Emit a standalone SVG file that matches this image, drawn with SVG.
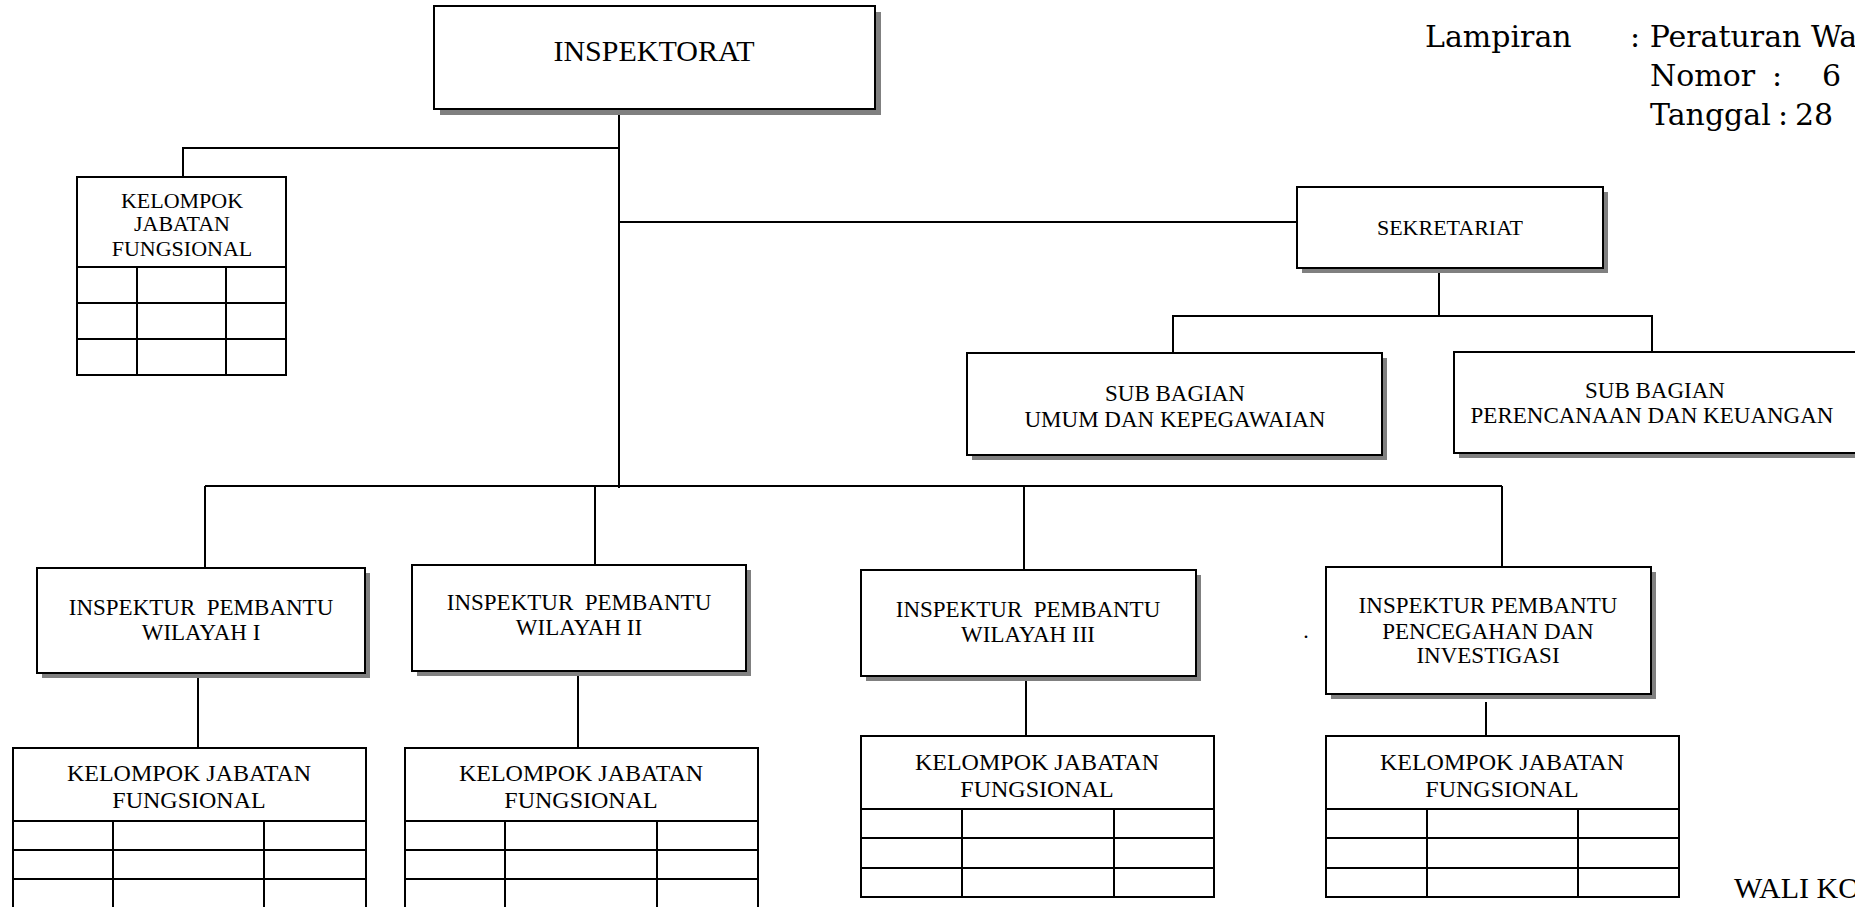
<svg xmlns="http://www.w3.org/2000/svg" width="1855" height="907" viewBox="0 0 1855 907">
<style>
.bg{fill:#ffffff}
.box{fill:#ffffff;stroke:#000000;stroke-width:2}
.sh{fill:#808080}
.ln{stroke:#000000;stroke-width:2;fill:none}
.gl{stroke:#000000;stroke-width:2;fill:none}
text{font-family:"Liberation Serif","Times New Roman",serif;fill:#000000;text-anchor:middle}
.t23{font-size:23px}
.t22{font-size:22px}
.t24{font-size:24px}
.big{font-size:30px}
.hd{font-family:"DejaVu Serif","Liberation Serif",serif;font-size:30px;text-anchor:start}
.pre{white-space:pre}
</style>
<rect class="bg" x="0" y="0" width="1855" height="907"/>

<g id="connectors">
<line class="ln" x1="619" y1="110" x2="619" y2="488"/>
<polyline class="ln" points="619,148 183,148 183,177"/>
<line class="ln" x1="619" y1="222" x2="1297" y2="222"/>
<line class="ln" x1="1439" y1="268" x2="1439" y2="316"/>
<polyline class="ln" points="1173,353 1173,316 1652,316 1652,352"/>
<line class="ln" x1="205" y1="486" x2="1502" y2="486"/>
<line class="ln" x1="205" y1="486" x2="205" y2="568"/>
<line class="ln" x1="595" y1="486" x2="595" y2="565"/>
<line class="ln" x1="1024" y1="486" x2="1024" y2="570"/>
<line class="ln" x1="1502" y1="486" x2="1502" y2="567"/>
<line class="ln" x1="198" y1="673" x2="198" y2="748"/>
<line class="ln" x1="578" y1="671" x2="578" y2="748"/>
<line class="ln" x1="1026" y1="676" x2="1026" y2="736"/>
<line class="ln" x1="1486" y1="702" x2="1486" y2="736"/>
</g>

<g id="lampiran">
<text class="hd" x="1425" y="47">Lampiran</text>
<text class="hd" x="1630" y="47">: Peraturan Wa</text>
<text class="hd" x="1650" y="86">Nomor</text>
<text class="hd" x="1772" y="86">:</text>
<text class="hd" x="1822" y="86">6</text>
<text class="hd" x="1650" y="125">Tanggal</text>
<text class="hd" x="1778" y="125">:</text>
<text class="hd" x="1795" y="125">28</text>
</g>

<g id="inspektorat">
<rect class="sh" x="440" y="12" width="441" height="103"/>
<rect class="box" x="434" y="6" width="441" height="103"/>
<text class="big" x="654" y="61">INSPEKTORAT</text>
</g>

<g id="kjf-top">
<rect class="box" x="77" y="177" width="209" height="198"/>
<line class="gl" x1="77" y1="267" x2="286" y2="267"/>
<line class="gl" x1="77" y1="303" x2="286" y2="303"/>
<line class="gl" x1="77" y1="339" x2="286" y2="339"/>
<line class="gl" x1="137" y1="267" x2="137" y2="375"/>
<line class="gl" x1="226" y1="267" x2="226" y2="375"/>
<text class="t22" x="182" y="208">KELOMPOK</text>
<text class="t22" x="182" y="231">JABATAN</text>
<text class="t22" x="182" y="256">FUNGSIONAL</text>
</g>

<g id="sekretariat">
<rect class="sh" x="1302" y="192" width="306" height="81"/>
<rect class="box" x="1297" y="187" width="306" height="81"/>
<text class="t22" x="1450" y="235">SEKRETARIAT</text>
</g>

<g id="subbag-umum">
<rect class="sh" x="972" y="358" width="415" height="102"/>
<rect class="box" x="967" y="353" width="415" height="102"/>
<text class="t23" x="1175" y="401">SUB BAGIAN</text>
<text class="t23" x="1175" y="427">UMUM DAN KEPEGAWAIAN</text>
</g>

<g id="subbag-perencanaan">
<rect class="sh" x="1459" y="357" width="420" height="101"/>
<rect class="box" x="1454" y="352" width="420" height="101"/>
<text class="t23" x="1655" y="398">SUB BAGIAN</text>
<text class="t23" x="1652" y="423">PERENCANAAN DAN KEUANGAN</text>
</g>

<g id="ip-wilayah-1">
<rect class="sh" x="42" y="573" width="328" height="105"/>
<rect class="box" x="37" y="568" width="328" height="105"/>
<text class="t23 pre" x="201" y="615">INSPEKTUR  PEMBANTU</text>
<text class="t23" x="201" y="640">WILAYAH I</text>
</g>

<g id="ip-wilayah-2">
<rect class="sh" x="417" y="570" width="334" height="106"/>
<rect class="box" x="412" y="565" width="334" height="106"/>
<text class="t23 pre" x="579" y="610">INSPEKTUR  PEMBANTU</text>
<text class="t23" x="579" y="635">WILAYAH II</text>
</g>

<g id="ip-wilayah-3">
<rect class="sh" x="866" y="575" width="335" height="106"/>
<rect class="box" x="861" y="570" width="335" height="106"/>
<text class="t23 pre" x="1028" y="617">INSPEKTUR  PEMBANTU</text>
<text class="t23" x="1028" y="642">WILAYAH III</text>
</g>

<g id="ip-pencegahan">
<rect class="sh" x="1331" y="572" width="325" height="127"/>
<rect class="box" x="1326" y="567" width="325" height="127"/>
<text class="t23" x="1488" y="613">INSPEKTUR PEMBANTU</text>
<text class="t23" x="1488" y="639">PENCEGAHAN DAN</text>
<text class="t23" x="1488" y="663">INVESTIGASI</text>
</g>

<g id="stray-dot">
<text class="t22" x="1306" y="638">.</text>
</g>

<g id="kjf-1">
<rect class="box" x="13" y="748" width="353" height="170"/>
<line class="gl" x1="13" y1="821" x2="366" y2="821"/>
<line class="gl" x1="13" y1="850" x2="366" y2="850"/>
<line class="gl" x1="13" y1="879" x2="366" y2="879"/>
<line class="gl" x1="113" y1="821" x2="113" y2="918"/>
<line class="gl" x1="264" y1="821" x2="264" y2="918"/>
<text class="t24" x="189" y="781">KELOMPOK JABATAN</text>
<text class="t24" x="189" y="808">FUNGSIONAL</text>
</g>

<g id="kjf-2">
<rect class="box" x="405" y="748" width="353" height="170"/>
<line class="gl" x1="405" y1="821" x2="758" y2="821"/>
<line class="gl" x1="405" y1="850" x2="758" y2="850"/>
<line class="gl" x1="405" y1="879" x2="758" y2="879"/>
<line class="gl" x1="505" y1="821" x2="505" y2="918"/>
<line class="gl" x1="657" y1="821" x2="657" y2="918"/>
<text class="t24" x="581" y="781">KELOMPOK JABATAN</text>
<text class="t24" x="581" y="808">FUNGSIONAL</text>
</g>

<g id="kjf-3">
<rect class="box" x="861" y="736" width="353" height="161"/>
<line class="gl" x1="861" y1="809" x2="1214" y2="809"/>
<line class="gl" x1="861" y1="838" x2="1214" y2="838"/>
<line class="gl" x1="861" y1="868" x2="1214" y2="868"/>
<line class="gl" x1="962" y1="809" x2="962" y2="897"/>
<line class="gl" x1="1114" y1="809" x2="1114" y2="897"/>
<text class="t24" x="1037" y="770">KELOMPOK JABATAN</text>
<text class="t24" x="1037" y="797">FUNGSIONAL</text>
</g>

<g id="kjf-4">
<rect class="box" x="1326" y="736" width="353" height="161"/>
<line class="gl" x1="1326" y1="809" x2="1679" y2="809"/>
<line class="gl" x1="1326" y1="838" x2="1679" y2="838"/>
<line class="gl" x1="1326" y1="868" x2="1679" y2="868"/>
<line class="gl" x1="1427" y1="809" x2="1427" y2="897"/>
<line class="gl" x1="1578" y1="809" x2="1578" y2="897"/>
<text class="t24" x="1502" y="770">KELOMPOK JABATAN</text>
<text class="t24" x="1502" y="797">FUNGSIONAL</text>
</g>

<g id="wali-kota">
<text x="1734" y="898" style="font-size:30px;text-anchor:start">WALI KO</text>
</g>
</svg>
